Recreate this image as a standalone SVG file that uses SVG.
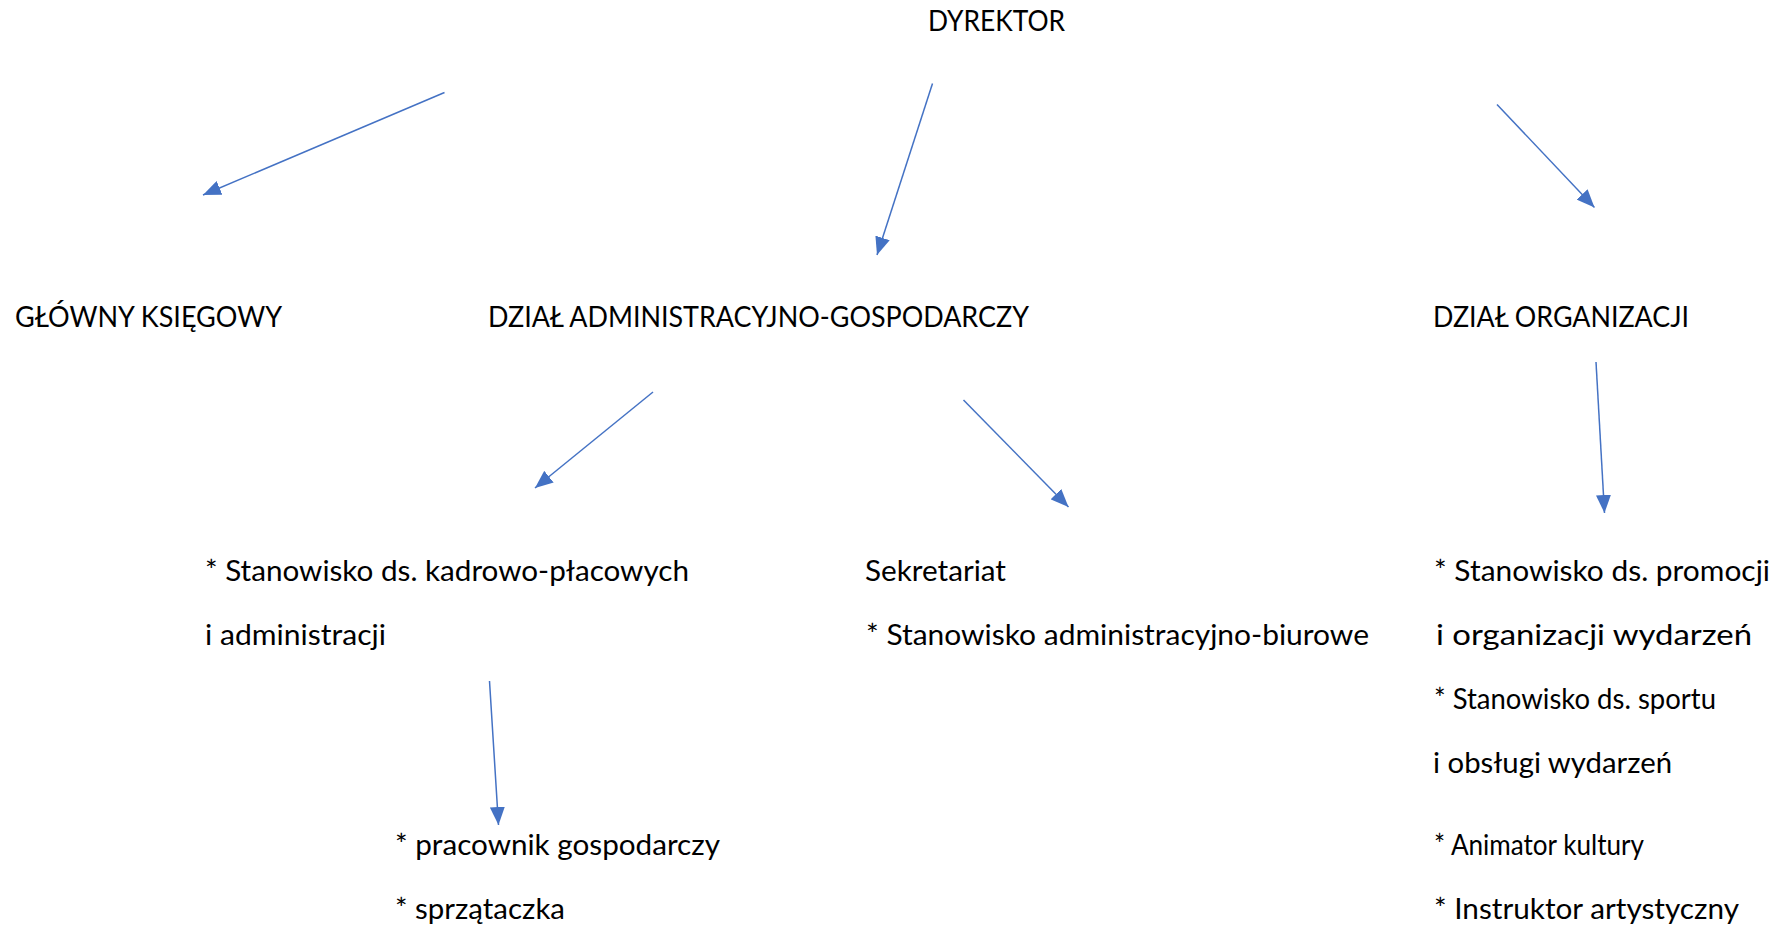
<svg xmlns="http://www.w3.org/2000/svg" width="1783" height="927" viewBox="0 0 1783 927">
<style>
.t{font-family:Lato,"Liberation Sans",sans-serif;font-size:29px;fill:#000}
.c{stroke:#4472C4;stroke-width:1.5;fill:none;marker-end:url(#ah)}
</style>
<defs>
<marker id="ah" viewBox="0 0 18 15" refX="18" refY="7.5" markerWidth="18" markerHeight="15" markerUnits="userSpaceOnUse" orient="auto">
<path d="M0,0 L18,7.5 L0,15 Z" fill="#4472C4"/>
</marker>
</defs>
<rect width="1783" height="927" fill="#fff"/>
<g id="connectors">
<line class="c" x1="444.5" y1="92.5" x2="203" y2="195"/>
<line class="c" x1="932.5" y1="83.5" x2="877" y2="255"/>
<line class="c" x1="1497" y1="104.5" x2="1594.5" y2="207.5"/>
<line class="c" x1="653" y1="392" x2="535" y2="488"/>
<line class="c" x1="963.5" y1="400" x2="1068.5" y2="507"/>
<line class="c" x1="1596" y1="362" x2="1604.5" y2="513"/>
<line class="c" x1="489.5" y1="681" x2="498.5" y2="825"/>
</g>
<g id="dyrektor"><text class="t" x="928" y="31" textLength="137" lengthAdjust="spacingAndGlyphs">DYREKTOR</text></g>
<g id="glowny-ksiegowy"><text class="t" x="15" y="327" textLength="267" lengthAdjust="spacingAndGlyphs">GŁÓWNY KSIĘGOWY</text></g>
<g id="dzial-admin"><text class="t" x="488" y="327" textLength="541" lengthAdjust="spacingAndGlyphs">DZIAŁ ADMINISTRACYJNO-GOSPODARCZY</text></g>
<g id="dzial-organizacji"><text class="t" x="1433" y="327" textLength="256" lengthAdjust="spacingAndGlyphs">DZIAŁ ORGANIZACJI</text></g>
<g id="kadrowo">
<text class="t" x="205" y="581" textLength="484" lengthAdjust="spacingAndGlyphs">* Stanowisko ds. kadrowo-płacowych</text>
<text class="t" x="205" y="645" textLength="181" lengthAdjust="spacingAndGlyphs">i administracji</text>
</g>
<g id="sekretariat">
<text class="t" x="865" y="581" textLength="141" lengthAdjust="spacingAndGlyphs">Sekretariat</text>
<text class="t" x="866" y="645" textLength="503" lengthAdjust="spacingAndGlyphs">* Stanowisko administracyjno-biurowe</text>
</g>
<g id="organizacja-stanowiska">
<text class="t" x="1434" y="581" textLength="336" lengthAdjust="spacingAndGlyphs">* Stanowisko ds. promocji</text>
<text class="t" x="1436" y="645" textLength="316" lengthAdjust="spacingAndGlyphs">i organizacji wydarzeń</text>
<text class="t" x="1434" y="709" textLength="282" lengthAdjust="spacingAndGlyphs">* Stanowisko ds. sportu</text>
<text class="t" x="1433" y="773" textLength="239" lengthAdjust="spacingAndGlyphs">i obsługi wydarzeń</text>
<text class="t" x="1434" y="855" textLength="210" lengthAdjust="spacingAndGlyphs">* Animator kultury</text>
<text class="t" x="1434" y="919" textLength="305" lengthAdjust="spacingAndGlyphs">* Instruktor artystyczny</text>
</g>
<g id="gospodarczy">
<text class="t" x="395" y="855" textLength="325" lengthAdjust="spacingAndGlyphs">* pracownik gospodarczy</text>
<text class="t" x="395" y="919" textLength="170" lengthAdjust="spacingAndGlyphs">* sprzątaczka</text>
</g>
</svg>
